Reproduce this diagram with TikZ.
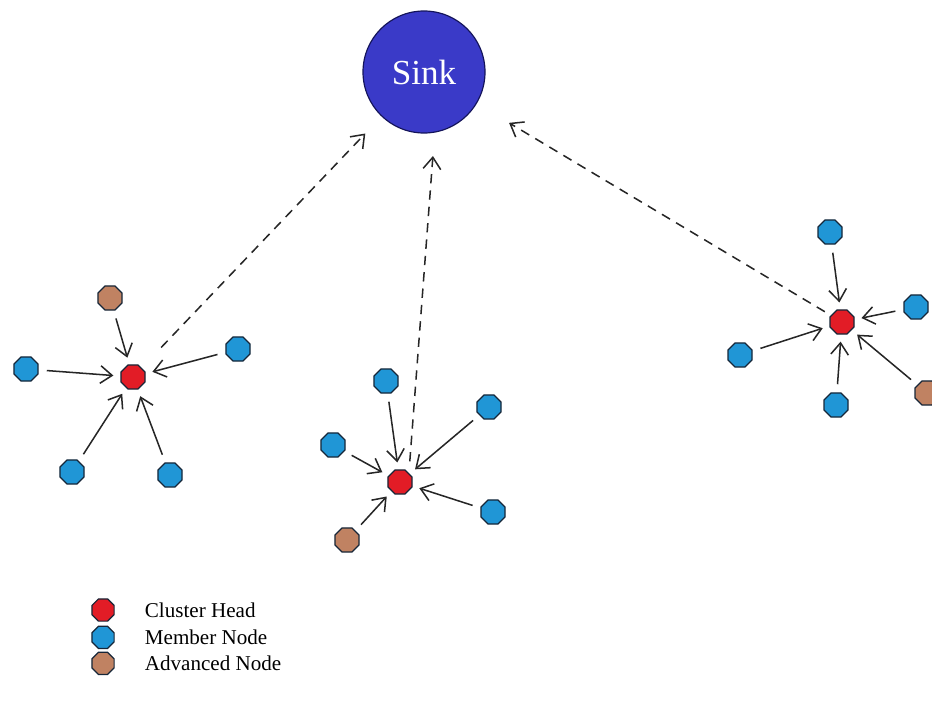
\documentclass[tikz,border=0pt]{standalone}
\usepackage{fontspec}
\setmainfont{Liberation Serif}
\usetikzlibrary{shapes.geometric,arrows.meta,positioning}
\definecolor{sinkblue}{RGB}{58,58,200}
\definecolor{sinkedge}{RGB}{20,20,90}
\definecolor{memberblue}{RGB}{32,150,214}
\definecolor{headred}{RGB}{226,28,38}
\definecolor{advbrown}{RGB}{192,130,98}
\definecolor{nodeedge}{RGB}{22,38,56}
\tikzstyle{sinknode} = [circle, minimum size=3.66cm, inner sep=0pt, draw=sinkedge, line width=1pt, fill=sinkblue, text=white, font=\fontsize{30}{32}\selectfont]
\tikzstyle{sensor} = [regular polygon, regular polygon sides=8, minimum size=0.78cm, inner sep=0pt, draw=nodeedge, line width=1pt]
\tikzstyle{chead} = [sensor, fill=headred]
\tikzstyle{member} = [sensor, fill=memberblue]
\tikzstyle{advanced} = [sensor, fill=advbrown]
\tikzstyle{memberlink} = [line width=1.3pt, draw=black!85, -{Straight Barb[length=10pt,width=15pt]}, shorten <=7pt, shorten >=6pt]
\tikzstyle{headlink} = [memberlink, dash pattern=on 8pt off 6pt]
\tikzstyle{legtext} = [anchor=west, inner sep=0pt, font=\fontsize{18}{20}\selectfont]
\begin{document}
\begin{tikzpicture}[x=0.03cm, y=-0.03cm]
\useasboundingbox (0,0) rectangle (932,704);
\clip (0,0) rectangle (932,704);

% Sink
\node [sinknode] (sink) at (424,72) {Sink};

% Left cluster
\node [chead] (ch1) at (133,377) {};
\node [advanced] (adv1) at (110,298) {};
\node [member] (m1a) at (26,369) {};
\node [member] (m1b) at (238,349) {};
\node [member] (m1c) at (72,472) {};
\node [member] (m1d) at (170,475) {};

% Middle cluster
\node [chead] (ch2) at (400,482) {};
\node [member] (m2a) at (386,381) {};
\node [member] (m2b) at (333,445) {};
\node [member] (m2c) at (489,407) {};
\node [member] (m2d) at (493,512) {};
\node [advanced] (adv2) at (347,540) {};

% Right cluster
\node [chead] (ch3) at (842,322) {};
\node [member] (m3a) at (830,232) {};
\node [member] (m3b) at (916,307) {};
\node [member] (m3c) at (740,355) {};
\node [member] (m3d) at (836,405) {};
\node [advanced] (adv3) at (927,393) {};

% Arrows to cluster heads
\draw [memberlink] (adv1) -- (ch1);
\draw [memberlink] (m1a) -- (ch1);
\draw [memberlink] (m1b) -- (ch1);
\draw [memberlink] (m1c) -- (ch1);
\draw [memberlink] (m1d) -- (ch1);
\draw [memberlink] (m2a) -- (ch2);
\draw [memberlink] (m2b) -- (ch2);
\draw [memberlink] (m2c) -- (ch2);
\draw [memberlink] (m2d) -- (ch2);
\draw [memberlink] (adv2) -- (ch2);
\draw [memberlink] (m3a) -- (ch3);
\draw [memberlink] (m3b) -- (ch3);
\draw [memberlink] (m3c) -- (ch3);
\draw [memberlink] (m3d) -- (ch3);
\draw [memberlink] (adv3) -- (ch3);

% Arrows to sink
\draw [headlink, shorten <=24pt, shorten >=20pt] (ch1) -- (sink);
\draw [headlink, shorten <=10pt, shorten >=20pt] (ch2.north east) -- (sink.-80);
\draw [headlink, shorten <=6pt, shorten >=32pt] (ch3) -- (sink);

% Legend
\node [chead, minimum size=0.72cm] (leghead) at (103,610) {};
\node [member, minimum size=0.72cm, below=0.12cm of leghead] (legmember) {};
\node [advanced, minimum size=0.72cm, below=0.08cm of legmember] (legadv) {};
\node [legtext, right=0.9cm of leghead] (legheadtext) {Cluster Head};
\node [legtext, right=0.9cm of legmember] (legmembertext) {Member Node};
\node [legtext, right=0.9cm of legadv] (legadvtext) {Advanced Node};

\end{tikzpicture}
\end{document}
